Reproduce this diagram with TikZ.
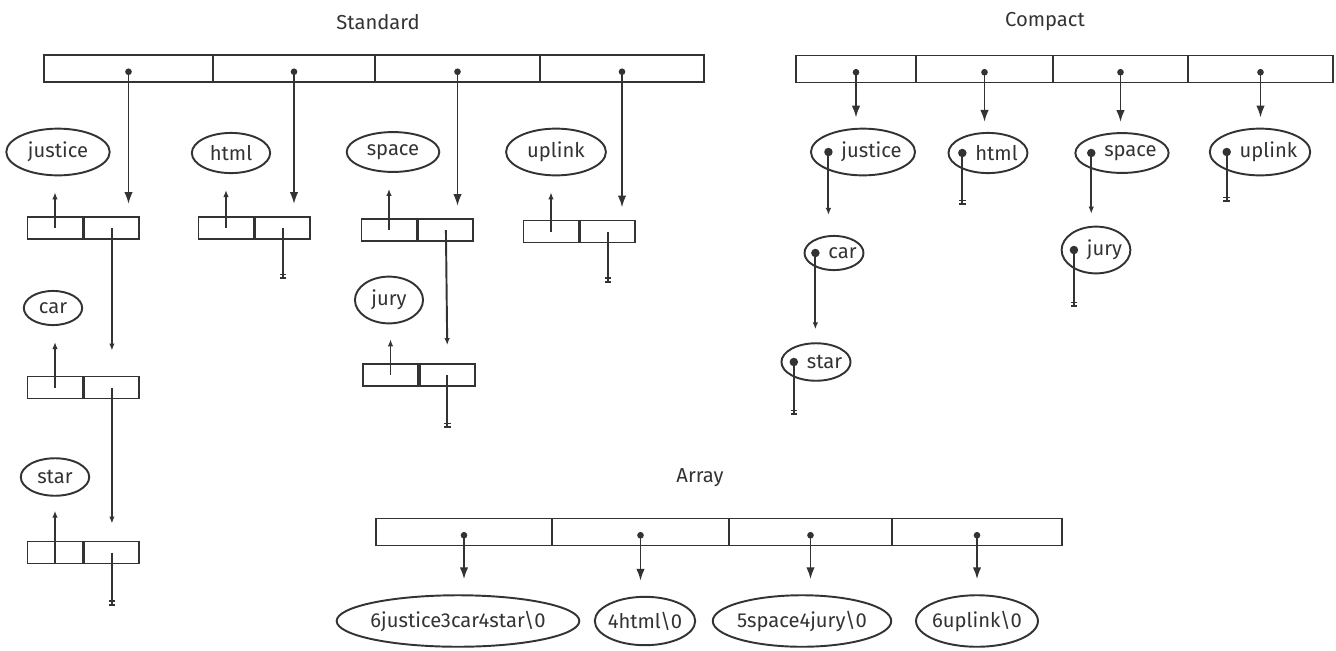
\documentclass[tikz,border=0pt]{standalone}
\usepackage{fontspec}
\setmainfont{Fira Sans}
\usetikzlibrary{arrows.meta,shapes.geometric,positioning}

\definecolor{ink}{gray}{0.2}

\tikzset{
  every node/.style={font=\fontsize{11.5}{13}\selectfont, text=ink},
  title/.style={inner sep=1pt},
  cell/.style={draw, rectangle, inner sep=0pt, minimum height=0.54cm},
  half/.style={draw, rectangle, inner sep=0pt, minimum width=1.1cm, minimum height=0.44cm},
  word/.style={draw, ellipse, inner sep=3.7pt},
  cword/.style={draw, ellipse, inner xsep=-1pt, inner ysep=3.7pt},
  blob/.style={draw, ellipse, inner xsep=-1pt, inner ysep=4.5pt},
  ptr/.style={{Circle[length=1.3mm]}-{Latex[length=2.4mm,width=1.7mm]}},
  back/.style={-{Latex[length=1.4mm,width=1.1mm]}},
  nil/.style={-{Bar[width=1.3mm,line width=0.9pt,sep=1.3pt]Bar[width=1.3mm,line width=0.9pt]}}
}

\begin{document}
\begin{tikzpicture}[x=0.02cm,y=-0.02cm,line width=1.1pt,draw=ink]
  \useasboundingbox (0,0) rectangle (1336,650);

  % titles
  \node[title] (tstd) at (378,22) {Standard};
  \node[title] (tcmp) at (1045,22) {Compact};
  \node[title] (tarr) at (700,478) {Array};

  % Standard
  \node[cell, minimum width=3.38cm] (s1) at (128.5,68.5) {};
  \node[cell, minimum width=3.24cm] (s2) at (294,68.5) {};
  \node[cell, minimum width=3.3cm] (s3) at (457.5,68.5) {};
  \node[cell, minimum width=3.28cm] (s4) at (622,68.5) {};

  \node[word] (sjus) at (58,152) {justice};
  \node[word] (shtml) at (231,153) {html};
  \node[word] (sspace) at (393,152) {space};
  \node[word] (suplink) at (556,152) {uplink};
  \node[word] (scar) at (53,308) {car};
  \node[word] (sstar) at (55,477) {star};
  \node[word] (sjury) at (389,300) {jury};

  \node[half] (sjusL) at (55,228) {};
  \node[half, right=0pt of sjusL] (sjusR) {};
  \node[half] (shtmlL) at (226,228) {};
  \node[half, right=0pt of shtmlL] (shtmlR) {};
  \node[half] (sspaceL) at (389,230) {};
  \node[half, right=0pt of sspaceL] (sspaceR) {};
  \node[half] (suplinkL) at (551,231.5) {};
  \node[half, right=0pt of suplinkL] (suplinkR) {};
  \node[half] (scarL) at (55,387.5) {};
  \node[half, right=0pt of scarL] (scarR) {};
  \node[half] (sstarL) at (55,552.5) {};
  \node[half, right=0pt of sstarL] (sstarR) {};
  \node[half] (sjuryL) at (390.5,375) {};
  \node[half, right=0pt of sjuryL] (sjuryR) {};

  \draw[ptr, shorten >=0.24cm] (s1.center) -- (s1.center |- sjusR.north);
  \draw[ptr, shorten >=0.24cm] (s2.center) -- (s2.center |- shtmlR.north);
  \draw[ptr, shorten >=0.24cm] (s3.center) -- (s3.center |- sspaceR.north);
  \draw[ptr, shorten >=0.24cm] (s4.center) -- (s4.center |- suplinkR.north);

  \draw[back, shorten >=0.32cm] (sjusL.center) -- (sjusL.center |- sjus.south);
  \draw[back, shorten >=0.32cm] (shtmlL.center) -- (shtmlL.center |- shtml.south);
  \draw[back, shorten >=0.32cm] (sspaceL.center) -- (sspaceL.center |- sspace.south);
  \draw[back, shorten >=0.32cm] (suplinkL.center) -- (suplinkL.center |- suplink.south);
  \draw[back, shorten >=0.32cm] (scarL.center) -- (scarL.center |- scar.south);
  \draw[back, shorten >=0.28cm] (sstarL.south) -- (sstarL.center |- sstar.south);
  \draw[back, shorten >=0.3cm] (sjuryL.center) -- (sjuryL.center |- sjury.south);

  \draw[back, shorten >=0.5cm] (sjusR.center) -- (scarR.north);
  \draw[back, shorten >=0.34cm] (scarR.center) -- (sstarR.north);
  \draw[back, shorten >=0.36cm] (sspaceR.center) -- (sjuryR.north);
  \draw[nil] (shtmlR.center) -- ++(0,51);
  \draw[nil] (suplinkR.center) -- ++(0,51);
  \draw[nil] (sjuryR.center) -- ++(0,53);
  \draw[nil] (sstarR.center) -- ++(0,53);

  % Compact
  \node[cell, minimum width=2.4cm] (c1) at (856,69) {};
  \node[cell, minimum width=2.74cm] (c2) at (984.5,69) {};
  \node[cell, minimum width=2.7cm] (c3) at (1120.5,69) {};
  \node[cell, minimum width=2.9cm] (c4) at (1260.5,69) {};

  \node[cword] (cjus) at (863,152) {\hspace*{0.34cm}justice};
  \node[cword] (chtml) at (988,153) {\hspace*{0.34cm}html};
  \node[cword] (cspace) at (1122,153) {\hspace*{0.34cm}space};
  \node[cword] (cuplink) at (1260,152) {\hspace*{0.34cm}uplink};
  \node[cword] (ccar) at (834,253) {\hspace*{0.34cm}car};
  \node[cword] (cstar) at (816,362) {\hspace*{0.34cm}star};
  \node[cword] (cjury) at (1096,250) {\hspace*{0.34cm}jury};

  \coordinate[xshift=0.08cm] (cjus-d) at (cjus.text |- cjus.center);
  \coordinate[xshift=0.08cm] (chtml-d) at (chtml.text |- chtml.center);
  \coordinate[xshift=0.08cm] (cspace-d) at (cspace.text |- cspace.center);
  \coordinate[xshift=0.08cm] (cuplink-d) at (cuplink.text |- cuplink.center);
  \coordinate[xshift=0.08cm] (ccar-d) at (ccar.text |- ccar.center);
  \coordinate[xshift=0.08cm] (cstar-d) at (cstar.text |- cstar.center);
  \coordinate[xshift=0.08cm] (cjury-d) at (cjury.text |- cjury.center);
  \foreach \w in {cjus,chtml,cspace,cuplink,ccar,cstar,cjury}
    \fill[ink] (\w-d) circle (0.85mm);

  \draw[ptr, shorten >=0.2cm] (c1.center) -- (c1.center |- cjus.north);
  \draw[ptr, shorten >=0.2cm] (c2.center) -- (c2.center |- chtml.north);
  \draw[ptr, shorten >=0.2cm] (c3.center) -- (c3.center |- cspace.north);
  \draw[ptr, shorten >=0.2cm] (c4.center) -- (c4.center |- cuplink.north);

  \draw[back, shorten >=0.4cm] (cjus-d) -- (cjus-d |- ccar.north);
  \draw[back, shorten >=0.26cm] (ccar-d) -- (ccar-d |- cstar.north);
  \draw[back, shorten >=0.24cm] (cspace-d) -- (cspace-d |- cjury.north);
  \draw[nil] (chtml-d) -- ++(0,52);
  \draw[nil] (cuplink-d) -- ++(0,50);
  \draw[nil] (cjury-d) -- ++(0,57);
  \draw[nil] (cstar-d) -- ++(0,53);

  % Array
  \node[cell, minimum width=3.52cm] (a1) at (464,532) {};
  \node[cell, minimum width=3.54cm] (a2) at (640.5,532) {};
  \node[cell, minimum width=3.26cm] (a3) at (810.5,532) {};
  \node[cell, minimum width=3.4cm] (a4) at (977,532) {};

  \node[blob] (b1) at (458,621) {6justice3car4star\textbackslash 0};
  \node[blob] (b2) at (645,621) {4html\textbackslash 0};
  \node[blob] (b3) at (802,621) {5space4jury\textbackslash 0};
  \node[blob] (b4) at (977,621) {6uplink\textbackslash 0};

  \draw[ptr, shorten >=0.3cm] (a1.center) -- (a1.center |- b1.north);
  \draw[ptr, shorten >=0.3cm] (a2.center) -- (a2.center |- b2.north);
  \draw[ptr, shorten >=0.3cm] (a3.center) -- (a3.center |- b3.north);
  \draw[ptr, shorten >=0.3cm] (a4.center) -- (a4.center |- b4.north);
\end{tikzpicture}
\end{document}
